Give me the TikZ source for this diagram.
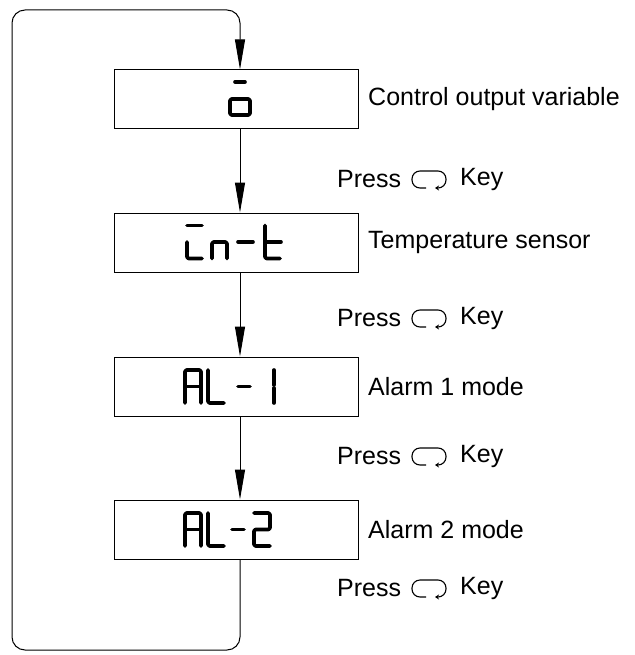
\documentclass[tikz,border=0pt]{standalone}
\usepackage{fontspec}
\setmainfont{Liberation Sans}
\usetikzlibrary{arrows.meta}
\tikzset{
  disp/.style={draw, line width=1pt, minimum width=244pt, minimum height=59pt, inner sep=0pt},
  flow/.style={line width=1pt, -{Triangle[length=30pt,width=10pt]}},
  seg/.style={line width=3.6pt, line cap=round, line join=round, rounded corners=1.5pt},
  lbl/.style={anchor=west, inner sep=0pt, font=\fontsize{25}{28}\selectfont},
  keyicon/.style={line width=1.1pt, rounded corners=8pt, -{Stealth[length=4pt,width=5pt]}}
}
\begin{document}
\begin{tikzpicture}[x=1pt,y=-1pt]
\useasboundingbox (0,0) rectangle (634,655);
% boxes
\node[disp] (b1) at (236,99.5) {};
\node[disp] (b2) at (236,242.5) {};
\node[disp] (b3) at (236,386.5) {};
\node[disp] (b4) at (236,529.5) {};
\coordinate (ax) at (240,0);
\coordinate (tl) at (12,10);
\coordinate (bl) at (12,650);
% connectors
\draw[flow] (b1.south -| ax) -- (b2.north -| ax);
\draw[flow] (b2.south -| ax) -- (b3.north -| ax);
\draw[flow] (b3.south -| ax) -- (b4.north -| ax);
\draw[flow, rounded corners=13pt] (b4.south -| ax) -- (bl -| ax) -- (bl) -- (tl) -- (tl -| ax) -- (b1.north -| ax);
% labels
\node[lbl] (l1) at (368,99.5) {Control output variable};
\node[lbl] (l2) at (368,242.5) {Temperature sensor};
\node[lbl] (l3) at (368,386.5) {Alarm 1 mode};
\node[lbl] (l4) at (368,529.5) {Alarm 2 mode};
% press rows
\foreach \y/\n in {179/1,318/2,456/3,588/4}{
  \node[lbl] (p\n) at (337,\y) {Press};
  \node[lbl] (k\n) at (460,\y) {Key};
  \begin{scope}[shift={(412,\y)}]
    \draw[keyicon] (14,9) -- (0,9) -- (0,-8) -- (34,-8) -- (34,9) -- (23,9);
  \end{scope}
}
% glyphs box 1: o with bar
\begin{scope}[shift={(230,82)}]
  \draw[seg] (5,0) -- (15,0);
  \draw[seg] (0,17) rectangle (20,33);
\end{scope}
% box 2: i n - t
\begin{scope}[shift={(187,225.5)}]
  \draw[seg] (0,0) -- (15,0);
  \draw[seg] (0,16.5) -- (0,33) -- (15,33);
\end{scope}
\begin{scope}[shift={(212,225.5)}]
  \draw[seg] (0,33) -- (0,16.5) -- (15,16.5) -- (15,33);
\end{scope}
\begin{scope}[shift={(238,225.5)}]
  \draw[seg] (0,16.5) -- (15,16.5);
\end{scope}
\begin{scope}[shift={(265,225.5)}]
  \draw[seg] (0,0) -- (0,33) -- (15,33);
  \draw[seg] (0,16.5) -- (16,16.5);
\end{scope}
% box 3: A L - 1
\begin{scope}[shift={(185,370)}]
  \draw[seg] (0,33) -- (0,0) -- (16,0) -- (16,33);
  \draw[seg] (0,16.5) -- (16,16.5);
\end{scope}
\begin{scope}[shift={(208,370)}]
  \draw[seg] (0,0) -- (0,33) -- (16,33);
\end{scope}
\begin{scope}[shift={(238,370)}]
  \draw[seg] (0,16.5) -- (12,16.5);
\end{scope}
\begin{scope}[shift={(258,370)}]
  \draw[seg] (16,0) -- (16,15);
  \draw[seg] (16,18) -- (16,33);
\end{scope}
% box 4: A L - 2
\begin{scope}[shift={(185,513)}]
  \draw[seg] (0,33) -- (0,0) -- (16,0) -- (16,33);
  \draw[seg] (0,16.5) -- (16,16.5);
\end{scope}
\begin{scope}[shift={(208,513)}]
  \draw[seg] (0,0) -- (0,33) -- (16,33);
\end{scope}
\begin{scope}[shift={(232,513)}]
  \draw[seg] (0,16.5) -- (12,16.5);
\end{scope}
\begin{scope}[shift={(254,513)}]
  \draw[seg] (0,0) -- (16,0) -- (16,16.5) -- (0,16.5) -- (0,33) -- (16,33);
\end{scope}
\end{tikzpicture}
\end{document}
